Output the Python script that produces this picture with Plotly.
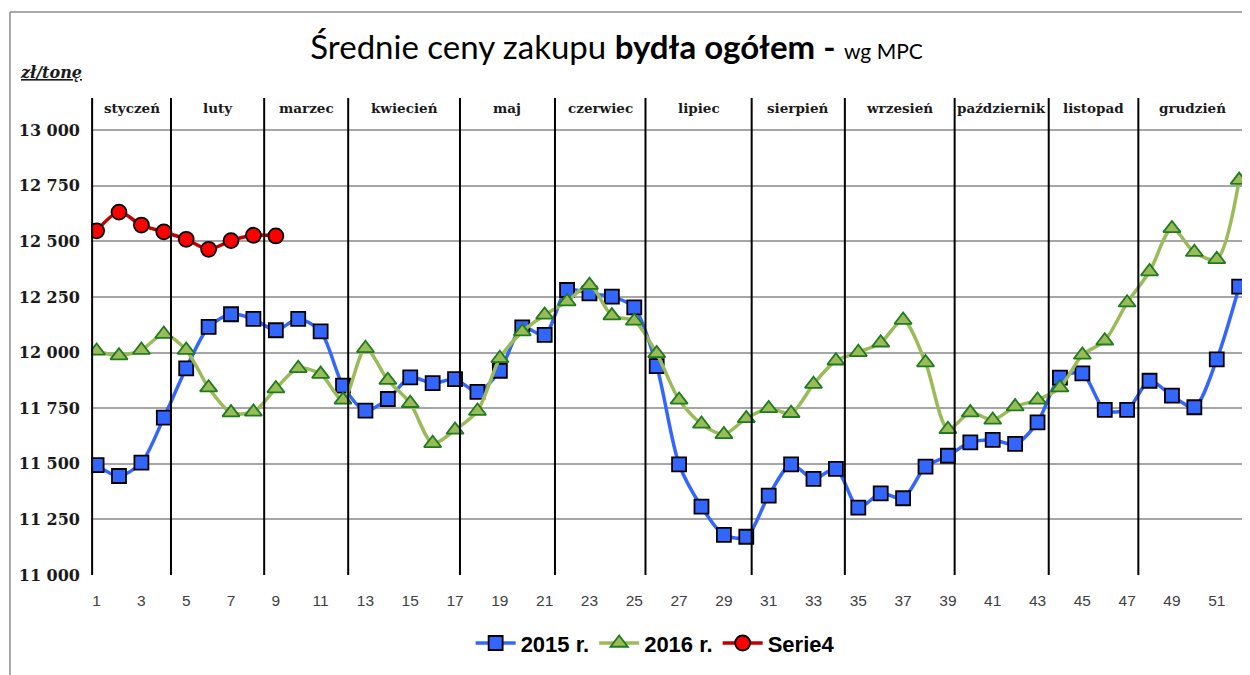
import plotly.graph_objects as go

weeks = list(range(1, 53))

s2015 = [11494, 11445, 11505, 11707, 11929, 12115, 12172, 12151, 12100, 12151,
         12095, 11851, 11739, 11791, 11888, 11862, 11880, 11823, 11918, 12113,
         12079, 12281, 12266, 12251, 12203, 11939, 11497, 11307, 11180, 11172,
         11357, 11497, 11432, 11477, 11303, 11367, 11345, 11487, 11536, 11596,
         11607, 11589, 11686, 11887, 11906, 11742, 11742, 11873, 11806, 11754,
         11969, 12296]

s2016 = [12007, 11986, 12011, 12083, 12011, 11842, 11730, 11733, 11838, 11929,
         11903, 11787, 12019, 11876, 11772, 11592, 11652, 11737, 11974, 12094,
         12169, 12229, 12303, 12166, 12142, 11996, 11787, 11679, 11632, 11704,
         11749, 11727, 11858, 11963, 12001, 12044, 12146, 11955, 11655, 11730,
         11697, 11757, 11787, 11842, 11989, 12053, 12224, 12364, 12558, 12451,
         12419, 12775]

serie4 = [12547, 12631, 12573, 12542, 12509, 12464, 12503, 12527, 12524]

months = ["styczeń", "luty", "marzec", "kwiecień", "maj", "czerwiec", "lipiec",
          "sierpień", "wrzesień", "październik", "listopad", "grudzień"]
month_bounds = [0.8, 4.32, 8.48, 12.23, 17.22, 21.46, 25.5, 30.24, 34.4, 39.3,
                43.5, 47.5, 52.3]

xticks = list(range(1, 53, 2))
yticks = list(range(11000, 13001, 250))

fig = go.Figure()

fig.add_trace(go.Scatter(
    x=weeks, y=s2015, name="2015 r.", mode="lines+markers",
    line=dict(color="#3366FF", width=3.5, shape="spline", smoothing=0.8),
    marker=dict(symbol="square", size=14, color="#3366FF",
                line=dict(color="#000000", width=1.8)),
))
fig.add_trace(go.Scatter(
    x=weeks, y=s2016, name="2016 r.", mode="lines+markers",
    line=dict(color="#9BBB59", width=3.5, shape="spline", smoothing=0.8),
    marker=dict(symbol="triangle-up", size=15, color="#9BBB59",
                line=dict(color="#1E7B1E", width=1.8)),
))
fig.add_trace(go.Scatter(
    x=weeks[:len(serie4)], y=serie4, name="Serie4", mode="lines+markers",
    line=dict(color="#C00000", width=3.5, shape="spline", smoothing=0.8),
    marker=dict(symbol="circle", size=15, color="#FF0000",
                line=dict(color="#000000", width=1.8)),
))

shapes = []
for b in month_bounds:
    shapes.append(dict(type="line", xref="x", yref="paper", x0=b, x1=b, y0=0, y1=1,
                       line=dict(color="#000000", width=2), layer="above"))
# outer frame
shapes.append(dict(type="line", xref="paper", yref="paper", x0=-0.0701, x1=1.01,
                   y0=1.1803, y1=1.1803, line=dict(color="#8C8C8C", width=1.5)))
shapes.append(dict(type="line", xref="paper", yref="paper", x0=-0.0701, x1=-0.0701,
                   y0=1.1803, y1=-0.25, line=dict(color="#8C8C8C", width=1.5)))

annotations = []
for i, m in enumerate(months):
    annotations.append(dict(
        x=(month_bounds[i] + month_bounds[i + 1]) / 2, y=0.978, xref="x", yref="paper",
        text="<b>" + m + "</b>", showarrow=False, xanchor="center", yanchor="middle",
        font=dict(family="DejaVu Serif", size=13.5, color="#1a1a1a")))
annotations.append(dict(
    x=-0.063, y=1.0545, xref="paper", yref="paper", xanchor="left", yanchor="middle",
    text="<b><i><u>zł/tonę</u></i></b>", showarrow=False,
    font=dict(family="DejaVu Serif", size=16, color="#1a1a1a")))

fig.update_layout(
    width=1242, height=667,
    margin=dict(l=83, r=3, t=90, b=100),
    paper_bgcolor="white", plot_bgcolor="white",
    separators=", ",
    title=dict(
        text="Średnie ceny zakupu <b>bydła ogółem -</b> <span style='font-size:21px'>wg MPC</span>",
        x=0.49, xanchor="center", y=0.9415, yanchor="middle",
        font=dict(family="Lato", size=33, color="#000000")),
    xaxis=dict(range=[0.75, 52.35], tickvals=xticks, showgrid=False, zeroline=False,
               showline=False, ticks="", ticklabelstandoff=14,
               tickfont=dict(family="Liberation Sans", size=15.5, color="#404040")),
    yaxis=dict(range=[11000, 13144], tickvals=yticks, tickformat=",d",
               showgrid=True, gridcolor="#A6A6A6", gridwidth=1.5, zeroline=False,
               showline=False, ticks="", ticklabelstandoff=10,
               tickfont=dict(family="DejaVu Serif", size=16, color="#1a1a1a",
                             weight="bold")),
    shapes=shapes,
    annotations=annotations,
    showlegend=True,
    legend=dict(orientation="h", x=0.488, xanchor="center", y=-0.143, yanchor="middle",
                font=dict(family="Liberation Sans", size=22, color="#000000",
                          weight="bold"),
                itemwidth=40, traceorder="normal"),
)

fig.write_html("out.html")
